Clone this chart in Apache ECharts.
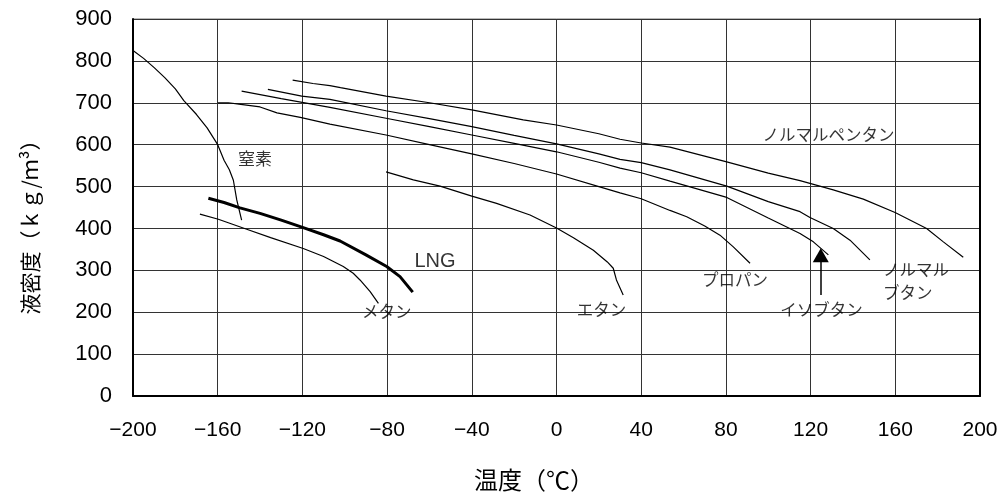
<!DOCTYPE html>
<html><head><meta charset="utf-8">
<script src="https://cdn.jsdelivr.net/npm/echarts@6/dist/echarts.min.js"></script>
<style>html,body{margin:0;padding:0;background:#fff}#c{width:1003px;height:500px}</style>
</head><body><div id="c"></div>
<script>
// Temperature (°C), liquid density (kg/m3) pairs
const nitrogen = [[-200,825],[-195,806],[-190,784],[-185,760],[-180,733],[-176,705],[-170,672],[-165,640],[-160,600],[-157,563],[-154.5,540],[-152.6,515],[-151,468],[-148.7,420]];
const methane = [[-168.4,434],[-159.7,422],[-153,410],[-146.3,398],[-135,378],[-119.6,352],[-110,333],[-100.7,309],[-96,293],[-92.8,277],[-88,249],[-84.1,221]];
const lng = [[-164.4,472],[-157,462],[-149.5,449],[-140,436],[-130,420],[-119.6,402],[-110,385],[-102.2,370],[-90,337],[-80.2,309],[-73.9,285],[-67.9,248]];
const ethane = [[-80.5,535],[-67.6,516],[-55,501],[-40,477],[-28.3,460],[-12.5,432],[0,401],[8,378],[17.4,348],[24,320],[26.8,305],[28.3,277],[31.5,241]];
const propane = [[-160,700],[-155,700],[-150,697],[-140,690],[-132,676],[-121,665],[-107,649],[-80.5,623],[-60,600],[-40,578],[-20,555],[0,530],[20,500],[30,485],[40,471],[53.6,443],[61.5,428],[70,406],[77.2,384],[83.5,356],[91.4,317]];
const isobutane = [[-148.7,728],[-130,710],[-107,689],[-80.5,663],[-60,643],[-40,623],[-20,603],[0,583],[20,558],[30,544],[40,533],[53.6,513],[80.4,474],[100,425],[115,388],[121.3,368],[128.4,337]];
const nbutane = [[-136.3,732],[-120.3,716],[-107,708],[-80.5,681],[-60,662],[-40,643],[-20,622],[0,602],[20,578],[30,565],[40,557],[53.6,540],[80.4,501],[100,464],[115,440],[119.7,426],[130.7,400],[138.6,372],[148,325]];
const pentane = [[-124.6,754],[-115,746],[-107,741],[-102,736],[-80.5,716],[-60,700],[-40,683],[-15.7,659],[0,647],[20,626],[30,613],[40,604],[53.6,594],[80.4,559],[100,532],[115,514],[130.7,492],[144.9,470],[159.9,438],[174.8,400],[182.7,368],[192.1,331]];

// Curve labels (text, temperature, density, alignment)
const labelNames = ['窒素','LNG','メタン','エタン','プロパン','イソブタン','ノルマル','ブタン','ノルマルペンタン'];
const labelX = [-142.4,-57.4,-80.2,21.3,84.3,125.2,154.2,154.2,128.4];
const labelY = [568,322,201,207,277,205,302,247,623];
const labelAlign = ['center','center','center','center','center','center','left','left','center'];

// Arrow pointing to the isobutane curve end
const arrowX = 124.8, arrowFrom = 241, arrowTo = 336;

const xTicks = {min:-200, max:200, step:40};
const yTicks = {min:0, max:900, step:100};

const chart = echarts.init(document.getElementById('c'));
const curve = (name, data, w) => ({
  name, type:'line', data, symbol:'none', showSymbol:false, smooth:false,
  lineStyle:{color:'#000', width:w}, silent:true, z:3
});
const labelData = labelNames.map((n,i)=>({
  value:[labelX[i], labelY[i]],
  label:{formatter:n, align:labelAlign[i], color:'#000',
         fontFamily: n==='LNG' ? 'Liberation Sans' : 'Noto Sans CJK JP',
         fontSize: n==='LNG' ? 20 : (n==='窒素' ? 17 : 16.5)}
}));

chart.setOption({
  animation:false,
  grid:{left:133, top:19, right:23, bottom:104, show:true, borderColor:'#777', borderWidth:1},
  xAxis:{type:'value', min:xTicks.min, max:xTicks.max, interval:xTicks.step,
    axisLine:{onZero:false, lineStyle:{color:'#000', width:2}},
    axisTick:{show:false},
    axisLabel:{margin:24, fontSize:21, color:'#000', fontFamily:'Liberation Sans',
      formatter:v=>String(v).replace('-','\u2212')},
    splitLine:{lineStyle:{color:'#333', width:1}}},
  yAxis:[{type:'value', min:yTicks.min, max:yTicks.max, interval:yTicks.step,
    axisLine:{show:true, onZero:false, lineStyle:{color:'#000', width:2}},
    axisTick:{show:false},
    axisLabel:{margin:21, fontSize:22, color:'#000', fontFamily:'Liberation Sans'},
    splitLine:{lineStyle:{color:'#333', width:1}}},
   {type:'value', position:'right', min:yTicks.min, max:yTicks.max, interval:yTicks.step,
    axisLine:{show:true, onZero:false, lineStyle:{color:'#000', width:2}},
    axisTick:{show:false}, axisLabel:{show:false}, splitLine:{show:false}}],
  graphic:[
    {type:'text', x:534, y:480,
     style:{text:'温度（℃）', fontSize:24, fontFamily:'Noto Sans CJK JP', fill:'#000', align:'center', verticalAlign:'middle'}},
    {type:'text', x:30, y:222, rotation:Math.PI/2,
     style:{text:'液密度（ｋｇ/ｍ³）', fontSize:21, fontFamily:'Noto Sans CJK JP', fill:'#000', align:'center', verticalAlign:'middle'}}
  ],
  series:[
    curve('窒素', nitrogen, 1.2),
    curve('メタン', methane, 1.2),
    curve('LNG', lng, 3),
    curve('エタン', ethane, 1.2),
    curve('プロパン', propane, 1.2),
    curve('イソブタン', isobutane, 1.2),
    curve('ノルマルブタン', nbutane, 1.2),
    curve('ノルマルペンタン', pentane, 1.2),
    {type:'scatter', symbolSize:0, silent:true, z:5,
     label:{show:true, position:'inside', color:'#000', verticalAlign:'middle'},
     data:labelData,
     markLine:{silent:true, symbol:['none','triangle'], symbolSize:[16,14],
       lineStyle:{color:'#000', width:1.5, type:'solid'}, label:{show:false},
       data:[[{coord:[arrowX, arrowFrom]},{coord:[arrowX, arrowTo]}]]}}
  ]
});
</script></body></html>
